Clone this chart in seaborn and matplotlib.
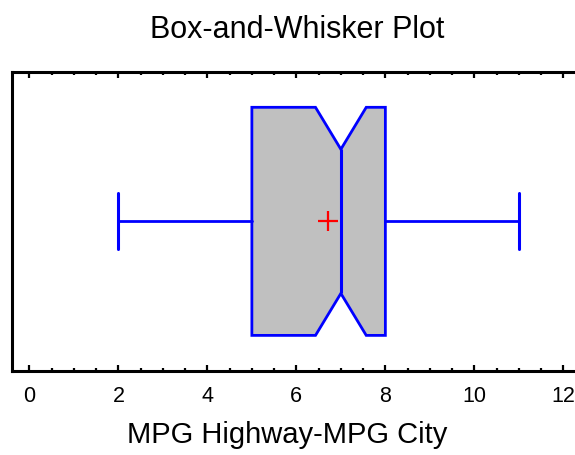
import matplotlib
matplotlib.use("Agg")
import matplotlib.pyplot as plt
import seaborn as sns
import numpy as np

# ---- data ----
variable = ["MPG Highway-MPG City"]
q1 = [5.0]
median = [7.0]
q3 = [8.0]
whisker_low = [2.0]
whisker_high = [11.0]
mean = [6.7]
notch_low = [6.43]
notch_high = [7.57]
x_ticks = [0, 2, 4, 6, 8, 10, 12]

sns.set_style("white")
plt.rcParams["font.family"] = ["Liberation Sans", "DejaVu Sans"]
plt.rcParams["text.color"] = "black"
plt.rcParams["axes.labelcolor"] = "black"
plt.rcParams["xtick.color"] = "black"

fig = plt.figure(figsize=(5.75, 4.56), dpi=100)
ax = fig.add_axes([0.0217, 0.1842, 0.989, 0.6564])

stats = []
for i in range(len(variable)):
    stats.append(dict(label=variable[i], med=median[i], q1=q1[i], q3=q3[i],
                      whislo=whisker_low[i], whishi=whisker_high[i],
                      mean=mean[i], cilo=notch_low[i], cihi=notch_high[i],
                      fliers=[]))

blue = "#0000FF"
box_w = 0.762
res = ax.bxp(stats, positions=[0], widths=box_w, orientation="horizontal",
             shownotches=True, patch_artist=True, showmeans=False,
             showfliers=False, capwidths=0.187,
             boxprops=dict(facecolor="#C0C0C0", edgecolor=blue, linewidth=2),
             whiskerprops=dict(color=blue, linewidth=2),
             capprops=dict(color=blue, linewidth=2.2),
             medianprops=dict(color=blue, linewidth=2.2))

# narrower notch indent to match the reference shape
indent = 0.316 * box_w
for patch in res["boxes"]:
    path = patch.get_path()
    v = path.vertices.copy()
    sel_hi = np.isclose(v[:, 1], 0.25 * box_w)
    sel_lo = np.isclose(v[:, 1], -0.25 * box_w)
    v[sel_hi, 1] = indent
    v[sel_lo, 1] = -indent
    path.vertices = v
for med in res["medians"]:
    med.set_ydata([-indent, indent])

# mean marker via seaborn
sns.scatterplot(x=mean, y=[0] * len(mean), marker="+", s=220, color="#FF0000",
                linewidth=1.6, ax=ax, zorder=5)

ax.set_xlim(-0.38, 12.4)
ax.set_ylim(-0.5, 0.5)
ax.set_xticks(x_ticks)
ax.set_xticks(np.arange(0, 12.5, 0.5), minor=True)
ax.set_yticks([])
ax.tick_params(axis="x", which="major", direction="in", top=True, bottom=True,
               length=4, width=1.6, labelsize=15.5, pad=10, colors="black")
ax.tick_params(axis="x", which="minor", direction="in", top=True, bottom=True,
               length=2.5, width=1.6, colors="black")
for s in ["left", "top", "bottom", "right"]:
    ax.spines[s].set_color("black")
    ax.spines[s].set_linewidth(2.2)

ax.set_xlabel(variable[0], fontsize=21, color="black")
ax.xaxis.set_label_coords(0.4836, -0.237)
ax.xaxis.label.set_verticalalignment("baseline")
ax.set_ylabel("")
ax.set_title("Box-and-Whisker Plot", fontsize=22, pad=25, color="black")

fig.savefig("out.png", dpi=100)
